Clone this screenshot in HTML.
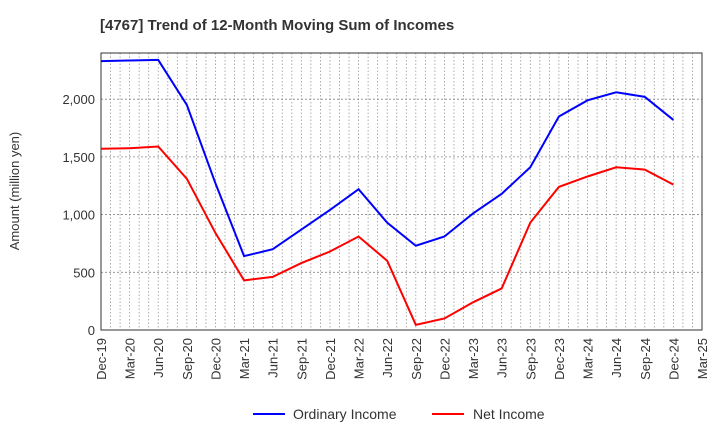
<!DOCTYPE html>
<html><head><meta charset="utf-8"><style>
body{margin:0;background:#fff;font-family:"Liberation Sans",sans-serif;}
</style></head><body>
<svg id="chart" width="720" height="440" xmlns="http://www.w3.org/2000/svg">
<text x="100" y="30" font-size="15" font-weight="bold" fill="#333">[4767]  Trend of 12-Month Moving Sum of Incomes</text>
<g id="grid"></g><g id="axes"></g><g id="series"></g>
<text transform="translate(19,191) rotate(-90)" text-anchor="middle" font-size="13" fill="#333">Amount (million yen)</text>
<g>
<line x1="253" y1="414" x2="285" y2="414" stroke="#0000ff" stroke-width="2"/>
<text x="293" y="419" font-size="14" fill="#333">Ordinary Income</text>
<line x1="432" y1="414" x2="464" y2="414" stroke="#ff0000" stroke-width="2"/>
<text x="473" y="419" font-size="14" fill="#333">Net Income</text>
</g>
</svg>
<script>
const categories=["Dec-19","Mar-20","Jun-20","Sep-20","Dec-20","Mar-21","Jun-21","Sep-21","Dec-21","Mar-22","Jun-22","Sep-22","Dec-22","Mar-23","Jun-23","Sep-23","Dec-23","Mar-24","Jun-24","Sep-24","Dec-24","Mar-25"];
const ordinaryIncome=[2330,2335,2340,1950,1270,640,700,870,1040,1220,930,730,810,1010,1180,1410,1850,1990,2060,2020,1820];
const netIncome=[1570,1575,1590,1310,840,430,460,580,680,810,600,45,100,240,360,930,1240,1330,1410,1390,1260];
const yTicks=[0,500,1000,1500,2000];
const yTickLabels=["0","500","1,000","1,500","2,000"];
const L=101,R=702,T=53,B=330,YMAX=2400;
const NS="http://www.w3.org/2000/svg";
const xq=i=>L+(R-L)*i/(categories.length-1);
const y=v=>B-(B-T)*v/YMAX;
function mk(tag,attrs,parent){const e=document.createElementNS(NS,tag);for(const k in attrs)e.setAttribute(k,attrs[k]);parent.appendChild(e);return e;}
const grid=document.getElementById('grid'),axes=document.getElementById('axes'),series=document.getElementById('series');
const months=(categories.length-1)*3;
for(let m=1;m<months;m++){const x=L+(R-L)*m/months;
const g=mk('line',{x1:x,x2:x,y1:T,y2:B,stroke:'#999','stroke-width':0.8,'stroke-dasharray':'1.5,2'},grid);

}
yTicks.forEach((v,i)=>{if(v>0){const g=mk('line',{x1:L,x2:R,y1:y(v),y2:y(v),stroke:'#888','stroke-width':0.8,'stroke-dasharray':'2,2'},grid);

}
const t=mk('text',{x:L-6,y:y(v)+5,'text-anchor':'end','font-size':13,fill:'#333'},axes);t.textContent=yTickLabels[i];

});
const fr=mk('rect',{x:L,y:T,width:R-L,height:B-T,fill:'none',stroke:'#333','stroke-width':1},axes);


categories.forEach((c,i)=>{const x=xq(i);
const t=mk('text',{transform:`translate(${x+5},${B+8}) rotate(-90)`,'text-anchor':'end','font-size':13,fill:'#333'},axes);t.textContent=c;

});
function line(data,color,name){const p=mk('polyline',{points:data.map((v,i)=>xq(i)+','+y(v)).join(' '),fill:'none',stroke:color,'stroke-width':2},series);

}
line(ordinaryIncome,'#0000ff','ordinary-income-line');
line(netIncome,'#ff0000','net-income-line');
</script>
</body></html>
